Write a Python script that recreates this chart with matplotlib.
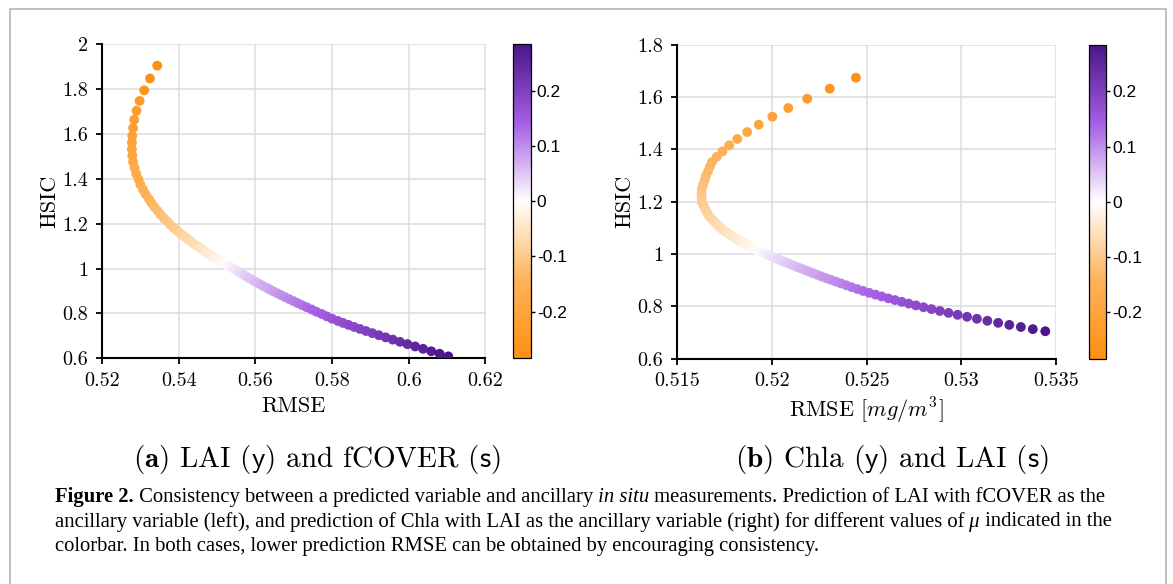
import matplotlib
matplotlib.use('Agg')
import matplotlib.pyplot as plt
from matplotlib.colors import LinearSegmentedColormap
from matplotlib.patches import Rectangle
from matplotlib.ticker import FormatStrFormatter

plt.rcParams['font.family'] = 'cmr10'
plt.rcParams['mathtext.fontset'] = 'cm'
plt.rcParams['axes.formatter.use_mathtext'] = True

# (a) LAI predicted with fCOVER as ancillary variable
lai_rmse = [0.5344, 0.5325, 0.5310, 0.5298, 0.5290, 0.5284, 0.5281, 0.5279,
            0.5278, 0.5278, 0.5279, 0.5281, 0.5285, 0.5289, 0.5295, 0.5300,
            0.5307, 0.5314, 0.5322, 0.5329, 0.5337, 0.5345, 0.5353, 0.5361,
            0.5370, 0.5378, 0.5386, 0.5394, 0.5402, 0.5410, 0.5418, 0.5425,
            0.5432, 0.5439, 0.5446, 0.5453, 0.5459, 0.5465, 0.5470, 0.5476,
            0.5480, 0.5486, 0.5491, 0.5497, 0.5503, 0.5508, 0.5514, 0.5519,
            0.5525,
            0.5531, 0.5536, 0.5542, 0.5547, 0.5553, 0.5559, 0.5564, 0.5570,
            0.5574, 0.5579, 0.5585, 0.5592, 0.5598, 0.5606, 0.5613, 0.5621,
            0.5630, 0.5638, 0.5647, 0.5657, 0.5667, 0.5677, 0.5688, 0.5699,
            0.5710, 0.5722, 0.5734, 0.5747, 0.5759, 0.5773, 0.5786, 0.5800,
            0.5815, 0.58285, 0.58426, 0.58573, 0.58726, 0.58885, 0.5905,
            0.59221, 0.59398, 0.59581, 0.5977, 0.59965, 0.60166, 0.60373,
            0.60586, 0.60805, 0.6103]
lai_hsic = [1.904, 1.847, 1.794, 1.747, 1.703, 1.663, 1.626, 1.591,
            1.5613, 1.5322, 1.5035, 1.4755, 1.4488, 1.4228, 1.3982, 1.3744,
            1.3523, 1.3309, 1.3112, 1.2919, 1.2738, 1.2563, 1.2396, 1.2246,
            1.2100, 1.1960, 1.1835, 1.1714, 1.1596, 1.1490, 1.1391, 1.1295,
            1.1204, 1.1116, 1.1033, 1.0955, 1.0881, 1.0810, 1.0743, 1.0679,
            1.0629, 1.0573, 1.0517, 1.0461, 1.0405, 1.0348, 1.0292, 1.0236,
            1.018,
            1.0122, 1.0065, 1.0007, 0.9949, 0.9892, 0.9834, 0.9777, 0.9719,
            0.9673, 0.9626, 0.9563, 0.9497, 0.9427, 0.9359, 0.9290, 0.9218,
            0.9142, 0.9064, 0.8983, 0.8901, 0.8818, 0.8733, 0.8644, 0.8552,
            0.8462, 0.8370, 0.8275, 0.8177, 0.8078, 0.7978, 0.7874, 0.7768,
            0.7669, 0.7581, 0.7492, 0.7402, 0.7311, 0.7219, 0.7126,
            0.7032, 0.6936, 0.6838, 0.6738, 0.6636, 0.6532, 0.6426,
            0.6317, 0.6205, 0.6090]
lai_mu = [-0.285, -0.271, -0.259, -0.248, -0.238, -0.229, -0.220, -0.212,
          -0.206, -0.199, -0.192, -0.186, -0.179, -0.173, -0.167, -0.161,
          -0.155, -0.149, -0.143, -0.137, -0.131, -0.126, -0.120, -0.115,
          -0.109, -0.104, -0.099, -0.094, -0.089, -0.084, -0.079, -0.075,
          -0.070, -0.066, -0.061, -0.057, -0.053, -0.049, -0.045, -0.041,
          -0.038, -0.035, -0.031, -0.026, -0.022, -0.018, -0.013, -0.007,
          0.0,
          0.007, 0.013, 0.018, 0.022, 0.027, 0.031, 0.035, 0.039,
          0.042, 0.045, 0.049, 0.053, 0.057, 0.062, 0.066, 0.071,
          0.076, 0.081, 0.086, 0.091, 0.096, 0.102, 0.107, 0.113,
          0.118, 0.124, 0.130, 0.136, 0.142, 0.148, 0.155, 0.161,
          0.167, 0.174, 0.181, 0.187, 0.193, 0.200, 0.207,
          0.214, 0.221, 0.229, 0.236, 0.244, 0.252, 0.260,
          0.268, 0.277, 0.285]

# (b) Chla predicted with LAI as ancillary variable
chla_rmse = [0.52443, 0.52305, 0.52186, 0.52086, 0.52002, 0.51930, 0.51869, 0.51817,
             0.51774, 0.51738, 0.51708, 0.51683, 0.51672, 0.51662, 0.51651, 0.51644,
             0.51636, 0.51629, 0.51628, 0.51628, 0.51630, 0.51639, 0.51649, 0.51658,
             0.51667, 0.51680, 0.51694, 0.51706, 0.51719, 0.51731, 0.51743, 0.51756,
             0.51769, 0.51781, 0.51792, 0.51804, 0.51813, 0.51825, 0.51837, 0.51848,
             0.51860, 0.51872, 0.51883, 0.51895, 0.51907, 0.51918,
             0.51930,
             0.51942, 0.51954, 0.51966, 0.51978, 0.51991, 0.52003, 0.52012, 0.52024,
             0.52037, 0.52051, 0.52066, 0.52082, 0.52098, 0.52115, 0.52133, 0.52153,
             0.52173, 0.52193, 0.52215, 0.52238, 0.52261, 0.52285, 0.52311, 0.52337,
             0.52364, 0.52392, 0.52420, 0.52450, 0.52481, 0.52513, 0.52546, 0.52579,
             0.52614, 0.52649, 0.52685, 0.52722, 0.52760, 0.52800, 0.52842, 0.52886,
             0.52932, 0.52980, 0.53030, 0.53082, 0.53137, 0.53194, 0.53253, 0.53314,
             0.53377, 0.53443]
chla_hsic = [1.6735, 1.6315, 1.5930, 1.5575, 1.5245, 1.4940, 1.4657, 1.4394,
             1.4149, 1.3921, 1.3709, 1.3512, 1.3333, 1.3157, 1.2986, 1.2811,
             1.2639, 1.2473, 1.2304, 1.2139, 1.1980, 1.1841, 1.1706, 1.1575,
             1.1447, 1.1344, 1.1249, 1.1157, 1.1068, 1.0982, 1.0902, 1.0839,
             1.0777, 1.0719, 1.0662, 1.0608, 1.0561, 1.0512, 1.0467, 1.0422,
             1.0378, 1.0333, 1.0289, 1.0244, 1.0199, 1.0155,
             1.0110,
             1.0072, 1.0035, 0.9997, 0.9959, 0.9922, 0.9884, 0.9855, 0.9818,
             0.9780, 0.9739, 0.9696, 0.9650, 0.9602, 0.9551, 0.9498, 0.9443,
             0.9388, 0.9330, 0.9270, 0.9207, 0.9142, 0.9076, 0.9011, 0.8943,
             0.8874, 0.8802, 0.8731, 0.8659, 0.8585, 0.8513, 0.8445, 0.8375,
             0.8303, 0.8237, 0.8170, 0.8102, 0.8033, 0.7963, 0.7892, 0.7820,
             0.7747, 0.7673, 0.7598, 0.7522, 0.7445, 0.7367, 0.7288, 0.7208,
             0.7127, 0.7045]
chla_mu = [-0.285, -0.262, -0.242, -0.224, -0.209, -0.195, -0.183, -0.173,
           -0.163, -0.155, -0.148, -0.141, -0.136, -0.131, -0.127, -0.122,
           -0.117, -0.113, -0.108, -0.104, -0.100, -0.095, -0.091, -0.087,
           -0.083, -0.079, -0.075, -0.071, -0.067, -0.064, -0.060, -0.057,
           -0.053, -0.050, -0.047, -0.043, -0.040, -0.037, -0.034, -0.030,
           -0.027, -0.023, -0.019, -0.015, -0.011, -0.006,
           0.0,
           0.006, 0.011, 0.015, 0.019, 0.023, 0.026, 0.029, 0.032,
           0.036, 0.039, 0.043, 0.047, 0.051, 0.055, 0.059, 0.064,
           0.068, 0.073, 0.077, 0.082, 0.087, 0.092, 0.097, 0.102,
           0.108, 0.113, 0.119, 0.124, 0.130, 0.136, 0.142, 0.148,
           0.154, 0.160, 0.166, 0.172, 0.179, 0.185, 0.192, 0.200,
           0.207, 0.215, 0.222, 0.231, 0.239, 0.248, 0.257, 0.266,
           0.275, 0.285]

lai_xticks = [0.52, 0.54, 0.56, 0.58, 0.6, 0.62]
lai_yticks = [0.6, 0.8, 1.0, 1.2, 1.4, 1.6, 1.8, 2.0]
chla_xticks = [0.515, 0.52, 0.525, 0.53, 0.535]
chla_yticks = [0.6, 0.8, 1.0, 1.2, 1.4, 1.6, 1.8]
cbar_ticks = [-0.2, -0.1, 0, 0.1, 0.2]
cbar_labels = ['-0.2', '-0.1', '0', '0.1', '0.2']
mu_lim = 0.285

cmap = LinearSegmentedColormap.from_list(
    'orange_purple',
    [(0.0, '#fd9014'), (0.25, '#fdb35a'), (0.5, '#ffffff'),
     (0.75, '#a55ee3'), (1.0, '#4b1689')])

W, H = 1173, 584
fig = plt.figure(figsize=(W / 100, H / 100), dpi=100)


def px_rect(x0, y0, x1, y1):
    # pixel box (top-left origin) -> figure fraction rect
    return [x0 / W, 1 - y1 / H, (x1 - x0) / W, (y1 - y0) / H]


def draw_panel(ax_box, cax_box, rmse, hsic, mu, xticks, yticks, xlabel, ylab_x):
    ax = fig.add_axes(px_rect(*ax_box))
    sc = ax.scatter(rmse, hsic, c=mu, cmap=cmap, vmin=-mu_lim, vmax=mu_lim,
                    s=50, edgecolors='none', zorder=3)
    ax.set_xlim(xticks[0], xticks[-1])
    ax.set_ylim(yticks[0], yticks[-1])
    ax.set_xticks(xticks)
    ax.set_yticks(yticks)
    ax.xaxis.set_major_formatter(FormatStrFormatter('%g'))
    ax.yaxis.set_major_formatter(FormatStrFormatter('%g'))
    ax.grid(True, color='#dcdcdc', linewidth=1.1)
    ax.set_axisbelow(True)
    for side in ['top', 'right']:
        ax.spines[side].set_visible(False)
    for side in ['left', 'bottom']:
        ax.spines[side].set_linewidth(1.5)
    ax.tick_params(direction='out', length=4, width=1.3, labelsize=14.5, pad=6)
    ax.set_xlabel(xlabel, fontsize=16)
    ax.set_ylabel('HSIC', fontsize=16)
    ax.xaxis.set_label_coords(0.5, -0.12)
    ax.yaxis.set_label_coords(ylab_x, 0.5)

    cax = fig.add_axes(px_rect(*cax_box))
    cb = fig.colorbar(sc, cax=cax)
    cb.set_ticks(cbar_ticks, labels=cbar_labels)
    cb.outline.set_linewidth(0.9)
    cax.tick_params(length=3, width=1.0, pad=1.5)
    for lab in cax.get_yticklabels():
        lab.set_fontfamily('Liberation Sans')
        lab.set_fontsize(12.5)
    return ax


draw_panel((102, 44.1, 485.5, 358.4), (512.7, 44.1, 530.5, 358.4),
           lai_rmse, lai_hsic, lai_mu, lai_xticks, lai_yticks, 'RMSE', -0.112)
draw_panel((677.3, 44.6, 1056.1, 358.6), (1088.5, 44.6, 1106, 358.6),
           chla_rmse, chla_hsic, chla_mu, chla_xticks, chla_yticks,
           r'RMSE $[mg/m^3]$', -0.114)

# sub-figure captions
fig.text(316.5 / W, 1 - 459 / H,
         r'$\mathbf{(a)}$ LAI ($\mathsf{y}$) and fCOVER ($\mathsf{s}$)',
         ha='center', va='center', fontsize=21)
fig.text(892 / W, 1 - 459 / H,
         r'$\mathbf{(b)}$ Chla ($\mathsf{y}$) and LAI ($\mathsf{s}$)',
         ha='center', va='center', fontsize=21)

# figure caption, written piece by piece so bold/italic runs sit inline
regular = {}
bold = {'weight': 'bold'}
italic = {'style': 'italic'}
caption = [
    [('Figure 2.', bold),
     (' Consistency between a predicted variable and ancillary', regular),
     (' in situ', italic),
     (' measurements. Prediction of LAI with fCOVER as the', regular)],
    [('ancillary variable (left), and prediction of Chla with LAI as the '
      'ancillary variable (right) for different values of', regular),
     (' \u03bc', italic),
     (' indicated in the', regular)],
    [('colorbar. In both cases, lower prediction RMSE can be obtained by '
      'encouraging consistency.', regular)],
]
renderer = fig.canvas.get_renderer()
for i, parts in enumerate(caption):
    x = 55 / W
    y = 1 - (502 + 24.5 * i) / H
    for text, style in parts:
        t = fig.text(x, y, text, ha='left', va='baseline', fontsize=14.85,
                     family='Liberation Serif', **style)
        x = t.get_window_extent(renderer).x1 / W

# frame around the whole figure
fig.add_artist(Rectangle((9.5 / W, -0.02), (1166 - 9.5) / W, 1.02 - 8.5 / H,
                         transform=fig.transFigure, fill=False,
                         edgecolor='#b4b4b4', linewidth=1.2))

fig.savefig('out.png', dpi=100)
